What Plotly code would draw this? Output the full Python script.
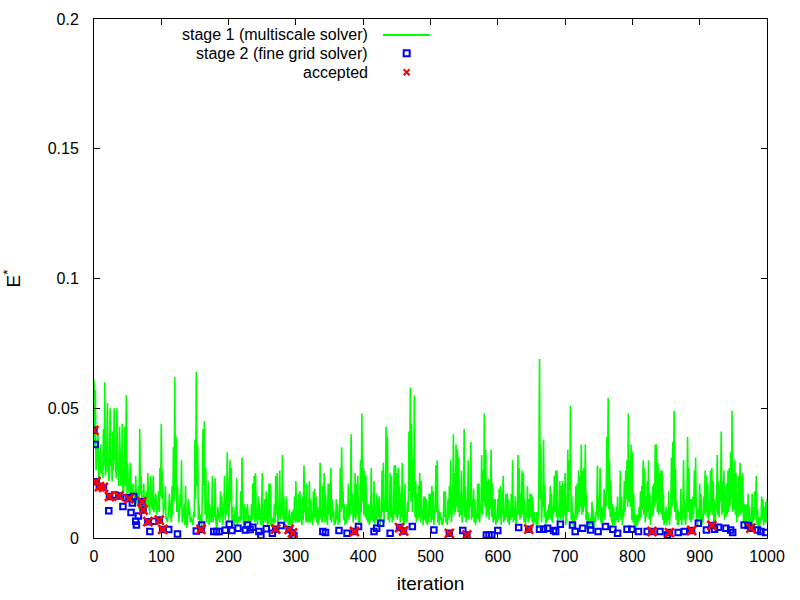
import plotly.graph_objects as go

# stage 1 (multiscale solver), E* in units of 1e-3
# even iterations 0, 2, ..., 1000
stage1_even_iter = list(range(0, 1001, 2))
stage1_even_milli = [
    61, 57, 30, 40, 24, 36, 28, 42, 60, 26,
    52, 22, 50, 30, 41, 50, 30, 50, 24, 43,
    20, 44, 18, 43, 55, 29, 17, 29, 14, 21,
    16, 24, 13, 20, 42, 24, 12, 21, 11, 18,
    25, 10, 24, 12, 24, 13, 17, 10, 18, 27,
    44, 26, 12, 20, 8, 8, 17, 7, 20, 35,
    62, 39, 20, 6, 17, 30, 8, 13, 20, 4,
    15, 12, 8, 6, 10, 38, 64, 36, 13, 9,
    4, 42, 45, 27, 8, 22, 13, 6, 24, 10,
    23, 4, 12, 7, 18, 16, 9, 24, 16, 33,
    6, 30, 27, 12, 5, 12, 23, 7, 8, 18,
    31, 5, 13, 7, 13, 9, 4, 13, 21, 24,
    25, 6, 16, 13, 5, 25, 8, 15, 18, 5,
    21, 21, 8, 6, 13, 24, 25, 8, 26, 12,
    32, 16, 6, 16, 8, 11, 5, 10, 11, 16,
    22, 6, 17, 18, 7, 16, 28, 12, 21, 6,
    22, 15, 8, 18, 19, 16, 12, 11, 29, 8,
    20, 25, 17, 7, 21, 21, 27, 15, 11, 6,
    15, 13, 8, 27, 35, 18, 13, 6, 13, 21,
    13, 40, 17, 12, 25, 21, 24, 8, 30, 48,
    27, 26, 24, 13, 13, 6, 27, 12, 22, 9,
    17, 15, 16, 7, 26, 29, 12, 43, 39, 11,
    25, 24, 8, 28, 28, 25, 27, 20, 17, 29,
    7, 21, 9, 14, 41, 58, 44, 30, 55, 22,
    17, 20, 25, 22, 11, 16, 16, 15, 6, 17,
    17, 20, 18, 11, 28, 30, 11, 10, 8, 6,
    18, 18, 8, 15, 20, 30, 10, 40, 25, 36,
    34, 31, 17, 26, 16, 42, 20, 15, 30, 15,
    37, 15, 19, 15, 9, 21, 21, 12, 32, 26,
    48, 34, 22, 23, 20, 34, 21, 15, 15, 8,
    15, 19, 20, 10, 24, 11, 17, 17, 15, 10,
    17, 30, 12, 16, 8, 32, 27, 17, 26, 25,
    15, 9, 20, 15, 17, 17, 16, 10, 8, 10,
    8, 69, 36, 14, 38, 20, 10, 11, 13, 20,
    17, 12, 24, 26, 26, 11, 22, 20, 22, 17,
    25, 9, 34, 30, 51, 16, 10, 7, 20, 21,
    26, 24, 36, 26, 27, 36, 17, 10, 6, 8,
    14, 11, 8, 10, 28, 16, 27, 12, 12, 19,
    17, 39, 54, 30, 22, 13, 12, 10, 12, 16,
    10, 26, 16, 11, 22, 26, 30, 48, 30, 36,
    33, 17, 8, 9, 9, 12, 18, 20, 30, 27,
    15, 22, 30, 17, 11, 20, 21, 36, 36, 29,
    25, 26, 26, 17, 10, 12, 11, 18, 9, 31,
    37, 49, 27, 14, 11, 10, 19, 8, 30, 15,
    9, 39, 27, 15, 15, 16, 26, 31, 12, 11,
    21, 17, 9, 16, 26, 24, 21, 12, 26, 27,
    22, 15, 11, 32, 22, 20, 41, 22, 26, 17,
    21, 26, 27, 33, 49, 25, 30, 25, 15, 24,
    29, 24, 25, 13, 13, 13, 17, 12, 8, 17,
    12, 18, 24, 11, 8, 8, 16, 15, 12, 14,
    15,
]
# odd iterations 1, 3, ..., 999
stage1_odd_iter = list(range(1, 1000, 2))
stage1_odd_milli = [
    35, 26, 33, 22, 30, 25, 23, 28, 24, 34,
    27, 24, 28, 22, 26, 31, 23, 27, 20, 25,
    22, 18, 24, 20, 17, 21, 15, 19, 13, 17,
    12, 15, 14, 11, 17, 13, 15, 10, 14, 12,
    13, 9, 15, 11, 10, 14, 9, 12, 10, 16,
    15, 9, 11, 7, 6, 10, 12, 6, 9, 14,
    18, 10, 7, 9, 12, 6, 10, 5, 8, 7,
    9, 6, 7, 5, 8, 15, 20, 7, 6, 5,
    18, 20, 9, 6, 10, 5, 8, 11, 6, 8,
    7, 5, 9, 6, 8, 5, 11, 7, 9, 12,
    10, 14, 6, 5, 9, 6, 5, 8, 6, 7,
    12, 6, 5, 9, 6, 8, 5, 7, 9, 6,
    10, 5, 7, 6, 9, 5, 8, 6, 7, 6,
    8, 5, 7, 5, 6, 9, 6, 10, 7, 9,
    7, 5, 8, 6, 5, 7, 6, 5, 7, 6,
    8, 7, 6, 9, 5, 7, 10, 6, 8, 7,
    6, 9, 5, 7, 8, 6, 5, 7, 9, 6,
    8, 6, 7, 5, 9, 7, 6, 8, 5, 6,
    7, 5, 6, 10, 12, 7, 5, 6, 8, 7,
    9, 12, 6, 8, 7, 9, 6, 5, 10, 14,
    9, 8, 7, 6, 5, 8, 7, 6, 5, 7,
    6, 8, 5, 9, 10, 6, 12, 10, 7, 6,
    8, 6, 7, 9, 8, 7, 9, 6, 8, 7,
    5, 7, 6, 10, 18, 14, 10, 16, 8, 6,
    7, 8, 6, 9, 5, 7, 6, 5, 7, 8,
    6, 7, 5, 9, 10, 6, 5, 7, 5, 6,
    8, 6, 5, 7, 9, 6, 12, 9, 10, 12,
    10, 8, 9, 6, 12, 8, 6, 10, 7, 12,
    7, 8, 6, 5, 8, 7, 6, 10, 9, 14,
    12, 8, 9, 7, 11, 8, 6, 7, 5, 6,
    7, 8, 5, 9, 6, 7, 8, 6, 5, 7,
    8, 6, 7, 5, 10, 9, 7, 8, 9, 6,
    5, 8, 6, 7, 8, 6, 5, 6, 5, 4,
    20, 15, 6, 12, 8, 5, 6, 7, 8, 7,
    6, 9, 10, 8, 5, 8, 7, 8, 6, 9,
    5, 12, 10, 18, 7, 5, 4, 8, 7, 9,
    10, 12, 9, 10, 12, 7, 5, 4, 5, 6,
    5, 4, 6, 9, 7, 10, 6, 5, 8, 7,
    12, 18, 11, 8, 6, 5, 5, 6, 7, 6,
    9, 7, 5, 8, 10, 15, 12, 14, 12, 7,
    6, 5, 4, 5, 6, 7, 8, 11, 9, 6,
    8, 10, 7, 5, 8, 9, 12, 14, 10, 9,
    10, 9, 7, 5, 6, 5, 7, 5, 9, 12,
    15, 10, 7, 5, 5, 7, 5, 10, 7, 5,
    14, 10, 7, 6, 7, 9, 12, 7, 5, 8,
    7, 5, 6, 9, 10, 8, 6, 9, 10, 9,
    6, 5, 11, 9, 8, 14, 9, 10, 7, 8,
    9, 10, 12, 15, 10, 11, 9, 6, 8, 10,
    9, 10, 6, 5, 6, 7, 5, 4, 6, 5,
    7, 9, 5, 4, 4, 6, 7, 5, 6, 6,
]

# stage 2 (fine grid solver)
stage2_iter = [
    0, 2, 3, 8, 14, 22, 23, 31, 37, 43, 48, 52, 55, 57, 59, 62, 63, 66, 71, 73,
    80, 83, 89, 97, 102, 111, 124, 152, 159, 160, 178, 182, 186, 195, 201, 205,
    214, 225, 228, 232, 236, 245, 248, 256, 265, 270, 278, 290, 295, 297, 340,
    344, 364, 376, 387, 393, 416, 420, 426, 440, 454, 460, 473, 505, 528, 548,
    554, 583, 587, 591, 600, 631, 646, 662, 668, 674, 683, 686, 693, 711, 715,
    726, 737, 738, 749, 760, 771, 778, 792, 799, 809, 822, 829, 841, 852, 855,
    868, 877, 888, 898, 910, 918, 922, 928, 939, 946, 949, 966, 972, 976, 986,
    991, 998,
]
stage2_err_milli = [
    41.5, 36, 21.7, 19.8, 19.5, 10.5, 16, 16.6, 16.2, 12.1, 15.5, 15.2, 9.8, 13.5, 16, 6.5, 5.0, 8.5, 14.0, 10.8,
    6.3, 2.5, 6.5, 6.9, 3.3, 3.3, 1.5, 2.7, 3.3, 5.0, 2.5, 2.5, 2.5, 3.0, 5.3, 2.9,
    3.8, 3.1, 5.0, 3.3, 4.1, 2.5, 1.0, 3.6, 1.8, 3.4, 4.8, 3.3, 2.0, 0.9, 2.5,
    2.1, 2.9, 1.8, 2.5, 4.4, 2.5, 3.8, 5.7, 1.8, 4.0, 2.7, 4.4, 3.1, 1.8, 2.9,
    1.2, 1.2, 1.2, 1.2, 2.9, 4.0, 3.4, 3.4, 3.4, 3.8, 2.9, 2.5, 5.3, 5.0, 2.5,
    3.8, 5.0, 3.1, 2.5, 4.4, 3.4, 1.8, 3.4, 3.4, 2.5, 2.5, 2.5, 2.5, 1.2, 2.1,
    2.1, 2.5, 2.9, 5.7, 3.1, 4.8, 3.4, 4.1, 3.8, 3.1, 2.1, 5.0, 4.8, 3.8, 3.1,
    2.5, 2.1,
]

# accepted proposals
accepted_iter = [0, 3, 8, 14, 23, 37, 52, 71, 73, 80, 97, 102, 159, 270, 290, 295,
                 387, 454, 460, 528, 554, 646, 829, 855, 888, 918, 976]
accepted_err_milli = [41.5, 21.7, 19.8, 19.5, 16, 16.2, 15.2, 14.0, 10.8, 6.3, 6.9, 3.3,
                      3.3, 3.4, 3.3, 2.0, 2.5, 4.0, 2.7, 1.8, 1.2, 3.4, 2.5, 2.1, 2.9, 4.8, 3.8]

legend_labels = ["stage 1 (multiscale solver)", "stage 2 (fine grid solver)", "accepted"]

GREEN = "#00ff00"
BLUE = "#0000ff"
RED = "#ff0000"
FONT = "Liberation Sans, Arial, sans-serif"

# merge even/odd samples into one ordered series
stage1 = sorted(zip(stage1_even_iter + stage1_odd_iter, stage1_even_milli + stage1_odd_milli))

fig = go.Figure()

fig.add_trace(go.Scatter(
    x=[it for it, _ in stage1], y=[v / 1000 for _, v in stage1],
    mode="lines", line=dict(color=GREEN, width=1.6),
    name=legend_labels[0], showlegend=False,
))
fig.add_trace(go.Scatter(
    x=stage2_iter, y=[v / 1000 for v in stage2_err_milli],
    mode="markers",
    marker=dict(symbol="square-open", size=5.5, color=BLUE, line=dict(width=2, color=BLUE)),
    name=legend_labels[1], showlegend=False,
))
fig.add_trace(go.Scatter(
    x=accepted_iter, y=[v / 1000 for v in accepted_err_milli],
    mode="markers",
    marker=dict(symbol="x-thin", size=9, color=RED, line=dict(width=2.6, color=RED)),
    name=legend_labels[2], showlegend=False,
))

# legend drawn gnuplot style: text right aligned, key sample on the right
rows_y = [0.9692, 0.9339, 0.8973]
for label, ry in zip(legend_labels, rows_y):
    fig.add_annotation(x=0.4101, y=ry, xref="paper", yref="paper", text=label,
                       showarrow=False, xanchor="right", yanchor="middle",
                       font=dict(family=FONT, size=16, color="#000000"))

key_x = 0.4646
fig.add_shape(type="line", xref="paper", yref="paper", x0=0.4294, x1=0.4993,
              y0=rows_y[0], y1=rows_y[0], line=dict(color=GREEN, width=2))
fig.add_shape(type="rect", xref="paper", yref="paper",
              xsizemode="pixel", ysizemode="pixel", xanchor=key_x, yanchor=rows_y[1],
              x0=-3, x1=3, y0=-3, y1=3, line=dict(color=BLUE, width=2))
for dy in (-3, 3):
    fig.add_shape(type="line", xref="paper", yref="paper",
                  xsizemode="pixel", ysizemode="pixel", xanchor=key_x, yanchor=rows_y[2],
                  x0=-3, x1=3, y0=-dy, y1=dy, line=dict(color=RED, width=2))

axis_common = dict(
    showline=True, linecolor="#000000", linewidth=1, mirror="ticks",
    ticks="inside", ticklen=6, tickcolor="#000000", tickwidth=1,
    showgrid=False, zeroline=False, automargin=False,
    tickfont=dict(family=FONT, size=16, color="#000000"),
)

fig.update_layout(
    width=800, height=600,
    margin=dict(l=94, r=33, t=19, b=62, autoexpand=False),
    paper_bgcolor="#ffffff", plot_bgcolor="#ffffff",
    font=dict(family=FONT, size=16, color="#000000"),
    showlegend=False,
    xaxis=dict(range=[0, 1000], tickvals=list(range(0, 1001, 100)),
               title=dict(text="iteration", standoff=12), ticklabelstandoff=4, **axis_common),
    yaxis=dict(range=[0, 0.2], tickvals=[0, 0.05, 0.1, 0.15, 0.2],
               title=dict(text="E<sup>*</sup>", standoff=30), ticklabelstandoff=11, **axis_common),
)

# the page body has a default 8px margin; drop it so the figure fills the window
fig.write_html("out.html", config={"displayModeBar": False},
               post_script="document.body.style.margin='0';")
